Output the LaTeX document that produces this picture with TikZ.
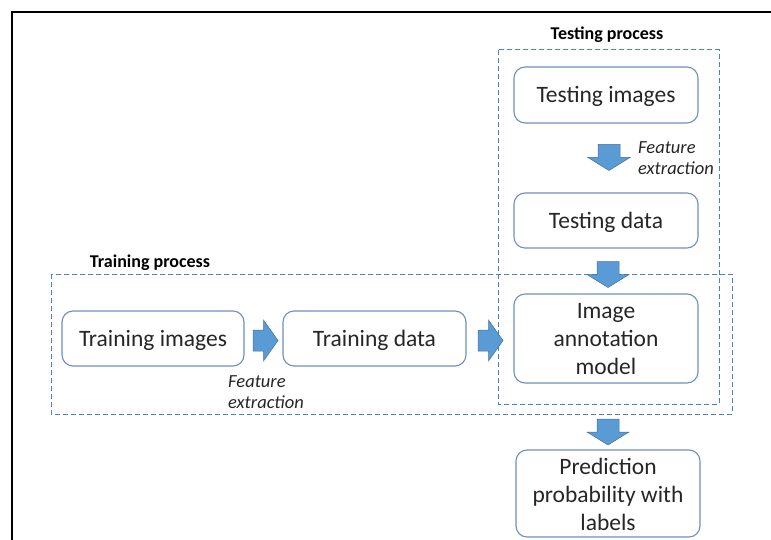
\documentclass[tikz,border=0pt]{standalone}
\usepackage{fontspec}
\setmainfont{Carlito}
\usetikzlibrary{calc}
\definecolor{boxline}{HTML}{6F8FBF}
\definecolor{dashline}{HTML}{4A84C0}
\definecolor{arrfill}{HTML}{5B9BD5}
\definecolor{arrline}{HTML}{41719C}
\definecolor{txt}{HTML}{262626}
\tikzset{
  procbox/.style={draw=boxline, line width=1.1pt, rounded corners=11pt, fill=white,
    text=txt, align=center, font=\fontsize{23.5}{28}\selectfont, inner sep=0pt},
  procbox text/.style={text=txt, align=center, font=\fontsize{23.5}{28}\selectfont, inner sep=0pt},
  groupbox/.style={draw=dashline, line width=1pt, dash pattern=on 5pt off 3pt},
  grouplabel/.style={text=black, font=\fontsize{18}{20}\selectfont\bfseries, inner sep=0pt},
  featlabel/.style={text=txt, font=\fontsize{18.5}{21}\selectfont\itshape, align=left, inner sep=0pt},
  blockarr/.style={fill=arrfill, draw=arrline, line width=0.5pt, line join=miter},
  downarrow/.pic={\draw[blockarr] (-11,-13) -- (11,-13) -- (11,0) -- (21,0) -- (0,13) -- (-21,0) -- (-11,0) -- cycle;},
  rightarrow/.pic={\draw[blockarr] (-12.5,-10.5) -- (-2,-10.5) -- (-2,-20.5) -- (12.5,0) -- (-2,20.5) -- (-2,10.5) -- (-12.5,10.5) -- cycle;}
}
\begin{document}
\begin{tikzpicture}[x=1pt,y=-1pt]
\useasboundingbox (0,0) rectangle (771,540);
% page frame
\draw[line width=2pt, black] (12,541) -- (12,12) -- (772,12);
% groups
\draw[groupbox] (498,50) rectangle (719,404);
\draw[groupbox] (51,274) rectangle (732,414);
\node[grouplabel] (tlab) at (607,34.5) {Testing process};
\node[grouplabel] (trlab) at (150,262.5) {Training process};
% boxes
\node[procbox, minimum width=184pt, minimum height=56pt] (ti) at (606,95) {};
\node[procbox, minimum width=184pt, minimum height=55pt] (td) at (606,220.5) {};
\node[procbox, minimum width=184pt, minimum height=89pt] (iam) at (606,338.5) {};
\node[procbox, minimum width=184pt, minimum height=87pt] (pred) at (608,493.5) {};
\node[procbox, minimum width=182pt, minimum height=55pt] (tri) at (153,338.5) {};
\node[procbox, minimum width=183pt, minimum height=55pt] (trd) at (374.5,338.5) {};
\node[procbox text] (tit) at ($(ti.center)+(0,1.5)$) {Testing images};
\node[procbox text] (tdt) at ($(td.center)+(0,1.5)$) {Testing data};
\node[procbox text] (iamt) at ($(iam.center)+(0,1)$) {Image\\annotation\\model};
\node[procbox text] (predt) at ($(pred.center)+(0,0.5)$) {Prediction\\probability with\\labels};
\node[procbox text] (trit) at ($(tri.center)+(0,1.5)$) {Training images};
\node[procbox text] (trdt) at ($(trd.center)+(0,1.5)$) {Training data};
% block arrows between nodes
\coordinate (a1) at ($(ti.south)!0.5!(td.north)+(3,-0.5)$);
\coordinate (a2) at ($(td.south)!0.5!(iam.north)+(2,3.5)$);
\coordinate (a3) at ($(tri.east)!0.5!(trd.west)+(2,2)$);
\coordinate (a4) at ($(trd.east)!0.5!(iam.west)+(0.5,2)$);
\coordinate (a5) at ($(iam.south)!0.5!(pred.north)+(1,15.5)$);
\pic at (a1) {downarrow};
\pic at (a2) {downarrow};
\pic at (a5) {downarrow};
\pic at (a3) {rightarrow};
\pic at (a4) {rightarrow};
% feature extraction labels
\node[featlabel, anchor=west] (fe1) at (638,158.5) {Feature\\extraction};
\node[featlabel, anchor=west] (fe2) at (228,392.5) {Feature\\extraction};
\end{tikzpicture}
\end{document}
